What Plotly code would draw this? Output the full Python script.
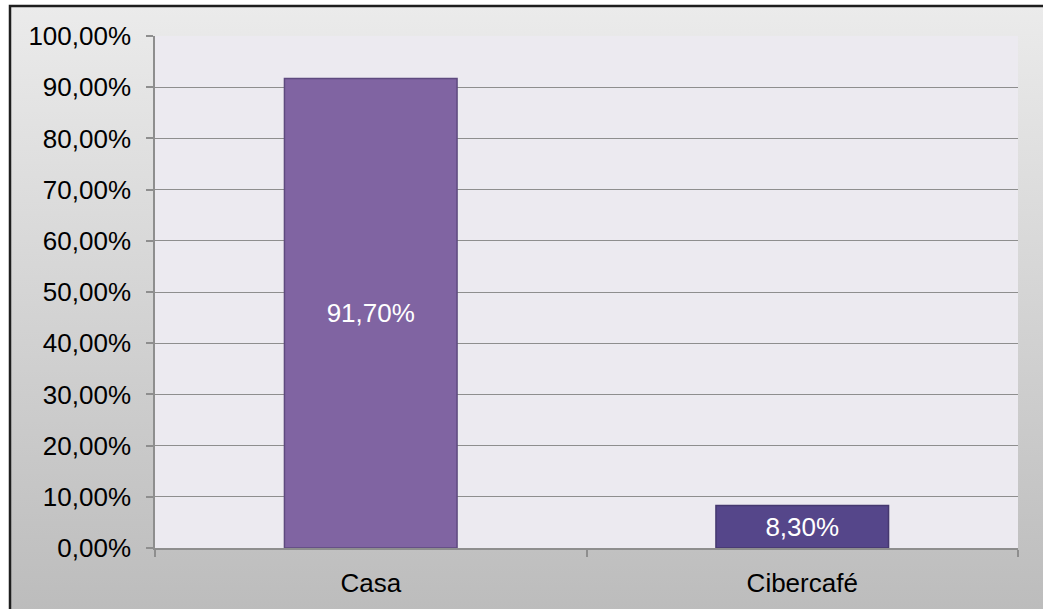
import plotly.graph_objects as go

# Data
categories = ["Casa", "Cibercafé"]
shares = [0.917, 0.083]
value_labels = ["91,70%", "8,30%"]
bar_colors = ["#8064A2", "#55468A"]
bar_edges = ["#5E4A7F", "#45386F"]

W, H = 1043, 609
L, R, T, B = 155, 25, 36, 61
PW, PH = W - L - R, H - T - B
FONT = "Liberation Sans, Arial"


def px_x(px):
    return (px - L) / PW


def px_y(py):
    return (H - B - py) / PH


gradient_svg = (
    "data:image/svg+xml;utf8,"
    "<svg xmlns='http://www.w3.org/2000/svg' width='100' height='100' preserveAspectRatio='none'>"
    "<defs><linearGradient id='g' x1='0' y1='0' x2='0' y2='1'>"
    "<stop offset='0' stop-color='%23ebebeb'/><stop offset='1' stop-color='%23bcbcbc'/>"
    "</linearGradient></defs><rect width='100' height='100' fill='url(%23g)'/></svg>"
)

fig = go.Figure(
    go.Bar(
        x=categories,
        y=shares,
        marker=dict(color=bar_colors, line=dict(color=bar_edges, width=1.5)),
        text=value_labels,
        textposition="inside",
        insidetextanchor="middle",
        textfont=dict(color="white", size=26, family=FONT),
        hoverinfo="skip",
    )
)

fig.update_layout(
    width=W,
    height=H,
    margin=dict(l=L, r=R, t=T, b=B),
    paper_bgcolor="white",
    plot_bgcolor="rgba(0,0,0,0)",
    separators=",.",
    bargap=0.6,
    showlegend=False,
    uniformtext=dict(minsize=26, mode="show"),
    font=dict(family=FONT, size=26, color="#000000"),
    images=[
        dict(
            source=gradient_svg,
            xref="paper", yref="paper",
            x=px_x(10), y=px_y(6),
            sizex=px_x(W + 5) - px_x(10), sizey=px_y(6) - px_y(H + 5),
            sizing="stretch", xanchor="left", yanchor="top", layer="below",
        )
    ],
    shapes=[
        # plot area fill
        dict(type="rect", xref="paper", yref="paper", x0=0, x1=1, y0=0, y1=1,
             fillcolor="#ECEAF0", line=dict(width=0), layer="below"),
        # outer frame
        dict(type="rect", xref="paper", yref="paper",
             x0=px_x(10), x1=px_x(W + 10), y0=px_y(6), y1=px_y(H + 10),
             fillcolor="rgba(0,0,0,0)", line=dict(color="#1e1e1e", width=2.5), layer="below"),
    ],
)

fig.update_yaxes(
    range=[0, 1],
    dtick=0.1,
    tickformat=".2%",
    showgrid=True,
    gridcolor="#8E8E8E",
    gridwidth=1.2,
    showline=True,
    linecolor="#8E8E8E",
    linewidth=1.5,
    ticks="outside",
    ticklen=7,
    tickcolor="#8E8E8E",
    tickwidth=1.5,
    ticklabelstandoff=10,
    zeroline=False,
    tickfont=dict(size=26),
)
fig.update_xaxes(
    showline=True,
    linecolor="#8E8E8E",
    linewidth=1.5,
    ticks="outside",
    tickson="boundaries",
    ticklen=7,
    tickcolor="#8E8E8E",
    tickwidth=1.5,
    showgrid=False,
    ticklabelstandoff=11,
    tickfont=dict(size=26),
)

fig.write_html("out.html")
